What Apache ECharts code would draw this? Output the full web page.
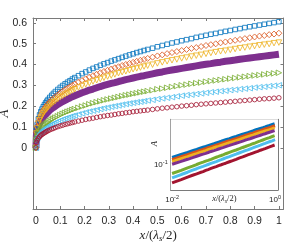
<!DOCTYPE html>
<html><head><meta charset="utf-8">
<script src="https://cdn.jsdelivr.net/npm/echarts@6/dist/echarts.min.js"></script>
<style>html,body{margin:0;padding:0;background:#fff}#c{width:287px;height:243px}</style>
</head><body><div id="c"></div>
<script>
const xVals = [0, 0.002, 0.005, 0.01, 0.015, 0.02, 0.025, 0.03, 0.035, 0.04, 0.045, 0.05, 0.057, 0.065, 0.072, 0.08, 0.09, 0.1, 0.11, 0.12, 0.13, 0.14, 0.15, 0.16, 0.175, 0.19, 0.205, 0.22, 0.235, 0.25, 0.265, 0.28, 0.295, 0.31, 0.325, 0.34, 0.355, 0.37, 0.385, 0.40, 0.415, 0.43, 0.445, 0.46, 0.48, 0.50, 0.52, 0.54, 0.56, 0.58, 0.60, 0.62, 0.64, 0.66, 0.68, 0.70, 0.72, 0.74, 0.76, 0.78, 0.80, 0.82, 0.84, 0.86, 0.88, 0.90, 0.92, 0.94, 0.96, 0.98, 1.0];
const blueA   = [0, 0.083, 0.111, 0.139, 0.158, 0.173, 0.186, 0.197, 0.207, 0.216, 0.224, 0.232, 0.242, 0.252, 0.261, 0.270, 0.280, 0.290, 0.299, 0.307, 0.315, 0.322, 0.330, 0.337, 0.346, 0.356, 0.364, 0.373, 0.381, 0.388, 0.396, 0.403, 0.409, 0.416, 0.422, 0.428, 0.434, 0.440, 0.446, 0.451, 0.457, 0.462, 0.467, 0.472, 0.478, 0.485, 0.491, 0.497, 0.503, 0.508, 0.514, 0.519, 0.524, 0.530, 0.535, 0.540, 0.545, 0.549, 0.554, 0.559, 0.563, 0.568, 0.572, 0.577, 0.581, 0.585, 0.589, 0.593, 0.597, 0.601, 0.605];
const orangeA = [0, 0.075, 0.101, 0.126, 0.143, 0.157, 0.169, 0.179, 0.188, 0.196, 0.204, 0.211, 0.220, 0.229, 0.237, 0.245, 0.254, 0.263, 0.271, 0.279, 0.286, 0.293, 0.300, 0.306, 0.315, 0.323, 0.331, 0.339, 0.346, 0.353, 0.360, 0.366, 0.372, 0.378, 0.384, 0.389, 0.395, 0.400, 0.405, 0.410, 0.415, 0.420, 0.424, 0.429, 0.435, 0.441, 0.446, 0.452, 0.457, 0.462, 0.467, 0.472, 0.477, 0.481, 0.486, 0.491, 0.495, 0.499, 0.504, 0.508, 0.512, 0.516, 0.520, 0.524, 0.528, 0.532, 0.536, 0.539, 0.543, 0.546, 0.550];
const yellowA = [0, 0.069, 0.093, 0.116, 0.132, 0.144, 0.155, 0.164, 0.173, 0.180, 0.187, 0.194, 0.202, 0.211, 0.218, 0.225, 0.234, 0.242, 0.249, 0.256, 0.263, 0.269, 0.275, 0.281, 0.289, 0.297, 0.304, 0.311, 0.318, 0.324, 0.330, 0.336, 0.342, 0.347, 0.352, 0.358, 0.363, 0.367, 0.372, 0.377, 0.381, 0.385, 0.390, 0.394, 0.399, 0.405, 0.410, 0.415, 0.420, 0.424, 0.429, 0.433, 0.438, 0.442, 0.446, 0.451, 0.455, 0.459, 0.463, 0.466, 0.470, 0.474, 0.478, 0.481, 0.485, 0.488, 0.492, 0.495, 0.498, 0.502, 0.505];
const purpleA = [0, 0.061, 0.082, 0.103, 0.117, 0.128, 0.138, 0.146, 0.154, 0.160, 0.166, 0.172, 0.180, 0.187, 0.193, 0.200, 0.208, 0.215, 0.222, 0.228, 0.234, 0.239, 0.245, 0.250, 0.257, 0.264, 0.270, 0.277, 0.282, 0.288, 0.294, 0.299, 0.304, 0.309, 0.313, 0.318, 0.322, 0.327, 0.331, 0.335, 0.339, 0.343, 0.346, 0.350, 0.355, 0.360, 0.364, 0.369, 0.373, 0.377, 0.381, 0.385, 0.389, 0.393, 0.397, 0.401, 0.404, 0.408, 0.411, 0.415, 0.418, 0.421, 0.425, 0.428, 0.431, 0.434, 0.437, 0.440, 0.443, 0.446, 0.449];
const greenA  = [0, 0.038, 0.053, 0.069, 0.079, 0.088, 0.095, 0.102, 0.108, 0.113, 0.118, 0.122, 0.128, 0.135, 0.140, 0.145, 0.151, 0.157, 0.163, 0.168, 0.173, 0.177, 0.182, 0.186, 0.192, 0.198, 0.203, 0.209, 0.214, 0.219, 0.223, 0.228, 0.232, 0.236, 0.240, 0.244, 0.248, 0.252, 0.255, 0.259, 0.262, 0.266, 0.269, 0.272, 0.276, 0.281, 0.284, 0.288, 0.292, 0.296, 0.300, 0.303, 0.307, 0.310, 0.313, 0.317, 0.320, 0.323, 0.326, 0.329, 0.332, 0.335, 0.338, 0.341, 0.344, 0.347, 0.349, 0.352, 0.355, 0.357, 0.360];
const cyanA   = [0, 0.032, 0.045, 0.057, 0.066, 0.073, 0.080, 0.085, 0.090, 0.094, 0.098, 0.102, 0.107, 0.112, 0.116, 0.121, 0.126, 0.131, 0.136, 0.140, 0.144, 0.148, 0.152, 0.155, 0.160, 0.165, 0.170, 0.174, 0.178, 0.182, 0.186, 0.190, 0.193, 0.197, 0.200, 0.203, 0.207, 0.210, 0.213, 0.216, 0.219, 0.221, 0.224, 0.227, 0.230, 0.234, 0.237, 0.240, 0.243, 0.247, 0.250, 0.253, 0.255, 0.258, 0.261, 0.264, 0.267, 0.269, 0.272, 0.274, 0.277, 0.279, 0.282, 0.284, 0.286, 0.289, 0.291, 0.293, 0.296, 0.298, 0.300];
const redA    = [0, 0.026, 0.036, 0.046, 0.053, 0.059, 0.064, 0.068, 0.072, 0.075, 0.079, 0.082, 0.086, 0.090, 0.093, 0.097, 0.101, 0.105, 0.108, 0.112, 0.115, 0.118, 0.121, 0.124, 0.128, 0.132, 0.136, 0.139, 0.142, 0.146, 0.149, 0.152, 0.155, 0.157, 0.160, 0.163, 0.165, 0.168, 0.170, 0.173, 0.175, 0.177, 0.179, 0.181, 0.184, 0.187, 0.190, 0.192, 0.195, 0.197, 0.200, 0.202, 0.204, 0.207, 0.209, 0.211, 0.213, 0.215, 0.217, 0.219, 0.221, 0.223, 0.225, 0.227, 0.229, 0.231, 0.233, 0.235, 0.236, 0.238, 0.240];

const xTicks = [0, 0.1, 0.2, 0.3, 0.4, 0.5, 0.6, 0.7, 0.8, 0.9, 1];
const yTicks = [0, 0.1, 0.2, 0.3, 0.4, 0.5, 0.6];
const insetXLabels = [0.01, 1];
const insetXTicks = [0.01, 0.02, 0.03, 0.04, 0.05, 0.06, 0.07, 0.08, 0.09, 0.1, 0.2, 0.3, 0.4, 0.5, 0.6, 0.7, 0.8, 0.9, 1];
const insetYLabels = [0.1];
const insetYTicks = [0.04, 0.05, 0.06, 0.07, 0.08, 0.09, 0.1, 0.2, 0.3, 0.4, 0.5, 0.6, 0.7];

const C = {blue:'#0072BD', orange:'#D95319', yellow:'#EDB120', purple:'#7E2F8E', green:'#77AC30', cyan:'#4DBEEE', red:'#A2142F'};
const AX = '#7a7a7a', TXT = '#262626';
const SANS = '"Liberation Sans", Arial, Helvetica, sans-serif';
const SERIF = '"Liberation Serif", "DejaVu Serif", serif';

function pairs(ys) { return xVals.map((x, i) => [x, ys[i]]); }
function insetPairs(ys) { return xVals.map((x, i) => [x, ys[i]]).filter(p => p[0] >= 0.01); }

const defs = [
  {ys: blueA,   c: C.blue,   sym: 'rect',     size: 4.5, rot: 0},
  {ys: orangeA, c: C.orange, sym: 'diamond',  size: 6,   rot: 0},
  {ys: yellowA, c: C.yellow, sym: 'triangle', size: 5.5, rot: 180},
  {ys: purpleA, c: C.purple, sym: 'line'},
  {ys: greenA,  c: C.green,  sym: 'triangle', size: 5.5, rot: -90},
  {ys: cyanA,   c: C.cyan,   sym: 'triangle', size: 5.5, rot: 90},
  {ys: redA,    c: C.red,    sym: 'circle',   size: 4.5, rot: 0}
];

const series = [];
defs.forEach(d => {
  if (d.sym === 'line') {
    series.push({type: 'line', xAxisIndex: 0, yAxisIndex: 0, data: pairs(d.ys), symbol: 'none',
      lineStyle: {color: d.c, width: 7}, z: 2, silent: true});
  } else {
    series.push({type: 'scatter', xAxisIndex: 0, yAxisIndex: 0, data: pairs(d.ys), symbol: d.sym,
      symbolSize: d.size, symbolRotate: d.rot,
      itemStyle: {color: 'rgba(0,0,0,0)', borderColor: d.c, borderWidth: 1}, z: 3, silent: true});
  }
  series.push({type: 'line', xAxisIndex: 2, yAxisIndex: 2, data: insetPairs(d.ys), symbol: 'none',
    lineStyle: {color: d.c, width: 3}, z: 6, silent: true, clip: true});
});

const mathName = {
  i: {fontFamily: SERIF, fontStyle: 'italic', fontSize: 13, color: TXT},
  n: {fontFamily: SERIF, fontSize: 13, color: TXT},
  sub: {fontFamily: SERIF, fontStyle: 'italic', fontSize: 9, color: TXT, verticalAlign: 'bottom', padding: [6, 0, 0, 0]}
};
const mathNameSmall = {
  i: {fontFamily: SERIF, fontStyle: 'italic', fontSize: 8.5, color: TXT},
  n: {fontFamily: SERIF, fontSize: 8.5, color: TXT},
  sub: {fontFamily: SERIF, fontStyle: 'italic', fontSize: 6, color: TXT, verticalAlign: 'bottom', padding: [4, 0, 0, 0]}
};
const powRich = {
  b: {fontFamily: SANS, fontSize: 8, color: TXT},
  sup: {fontFamily: SANS, fontSize: 5.5, color: TXT, verticalAlign: 'top', padding: [0, 0, 5, 0]}
};
function powFmt(v) { return '{b|10}{sup|' + Math.round(Math.log10(v)) + '}'; }

const line = {show: true, onZero: false, lineStyle: {color: AX, width: 1}};

const option = {
  animation: false,
  backgroundColor: '#fff',
  grid: [
    {left: 33, right: 3.5, top: 18, bottom: 34, outerBoundsMode: 'none', containLabel: false},
    {left: 170.7, right: 9, top: 119.3, bottom: 53, show: true, backgroundColor: '#fff', borderWidth: 0, z: 5, outerBoundsMode: 'none', containLabel: false}
  ],
  xAxis: [
    {type: 'value', gridIndex: 0, position: 'bottom', min: -0.012, max: 1.019, axisLine: line,
      axisTick: {show: true, inside: true, length: 3, customValues: xTicks, lineStyle: {color: AX}},
      axisLabel: {customValues: xTicks, margin: 7, fontSize: 10.5, fontFamily: SANS, color: TXT},
      splitLine: {show: false},
      name: '{i|x}{n|/(}{i|λ}{sub|s}{n|/2)}', nameLocation: 'middle', nameGap: 19, nameMoveOverlap: false,
      nameTextStyle: {rich: mathName}},
    {type: 'value', gridIndex: 0, position: 'top', min: -0.012, max: 1.019, axisLine: line,
      axisTick: {show: true, inside: true, length: 3, customValues: xTicks, lineStyle: {color: AX}},
      axisLabel: {show: false}, splitLine: {show: false}},
    {type: 'log', logBase: 10, gridIndex: 1, position: 'bottom', min: 0.0094, max: 1.14, axisLine: line,
      axisTick: {show: true, inside: true, length: 2, customValues: insetXTicks, lineStyle: {color: AX}},
      axisLabel: {customValues: insetXLabels, margin: 4, formatter: powFmt, rich: powRich},
      splitLine: {show: false}, minorTick: {show: false},
      name: '{i|x}{n|/(}{i|λ}{sub|s}{n|/2)}', nameLocation: 'middle', nameGap: 4, nameMoveOverlap: false,
      nameTextStyle: {rich: mathNameSmall}},
    {type: 'log', logBase: 10, gridIndex: 1, position: 'top', min: 0.0094, max: 1.14, axisLine: line,
      axisTick: {show: true, inside: true, length: 2, customValues: insetXTicks, lineStyle: {color: AX}},
      axisLabel: {show: false}, splitLine: {show: false}}
  ],
  yAxis: [
    {type: 'value', gridIndex: 0, position: 'left', min: -0.294, max: 0.623, axisLine: line,
      axisTick: {show: true, inside: true, length: 3, customValues: yTicks, lineStyle: {color: AX}},
      axisLabel: {customValues: yTicks, margin: 6, fontSize: 10.5, fontFamily: SANS, color: TXT},
      splitLine: {show: false},
      name: '{i|A}', nameLocation: 'middle', nameGap: 22, nameMoveOverlap: false, nameTextStyle: {rich: mathName}},
    {type: 'value', gridIndex: 0, position: 'right', min: -0.294, max: 0.623, axisLine: line,
      axisTick: {show: true, inside: true, length: 3, customValues: yTicks, lineStyle: {color: AX}},
      axisLabel: {show: false}, splitLine: {show: false}},
    {type: 'log', logBase: 10, gridIndex: 1, position: 'left', min: 0.0337, max: 0.728, axisLine: line,
      axisTick: {show: true, inside: true, length: 2, customValues: insetYTicks, lineStyle: {color: AX}},
      axisLabel: {customValues: insetYLabels, margin: 3, formatter: powFmt, rich: powRich},
      splitLine: {show: false},
      name: '{i|A}', nameLocation: 'middle', nameGap: 11, nameMoveOverlap: false,
      nameTextStyle: {rich: mathNameSmall, padding: [0, 0, 0, 22]}},
    {type: 'log', logBase: 10, gridIndex: 1, position: 'right', min: 0.0337, max: 0.728, axisLine: line,
      axisTick: {show: true, inside: true, length: 2, customValues: insetYTicks, lineStyle: {color: AX}},
      axisLabel: {show: false}, splitLine: {show: false}}
  ],
  series: series
};
const chart = echarts.init(document.getElementById('c'), null, {renderer: 'canvas'});
chart.setOption(option);
</script>
</body></html>
